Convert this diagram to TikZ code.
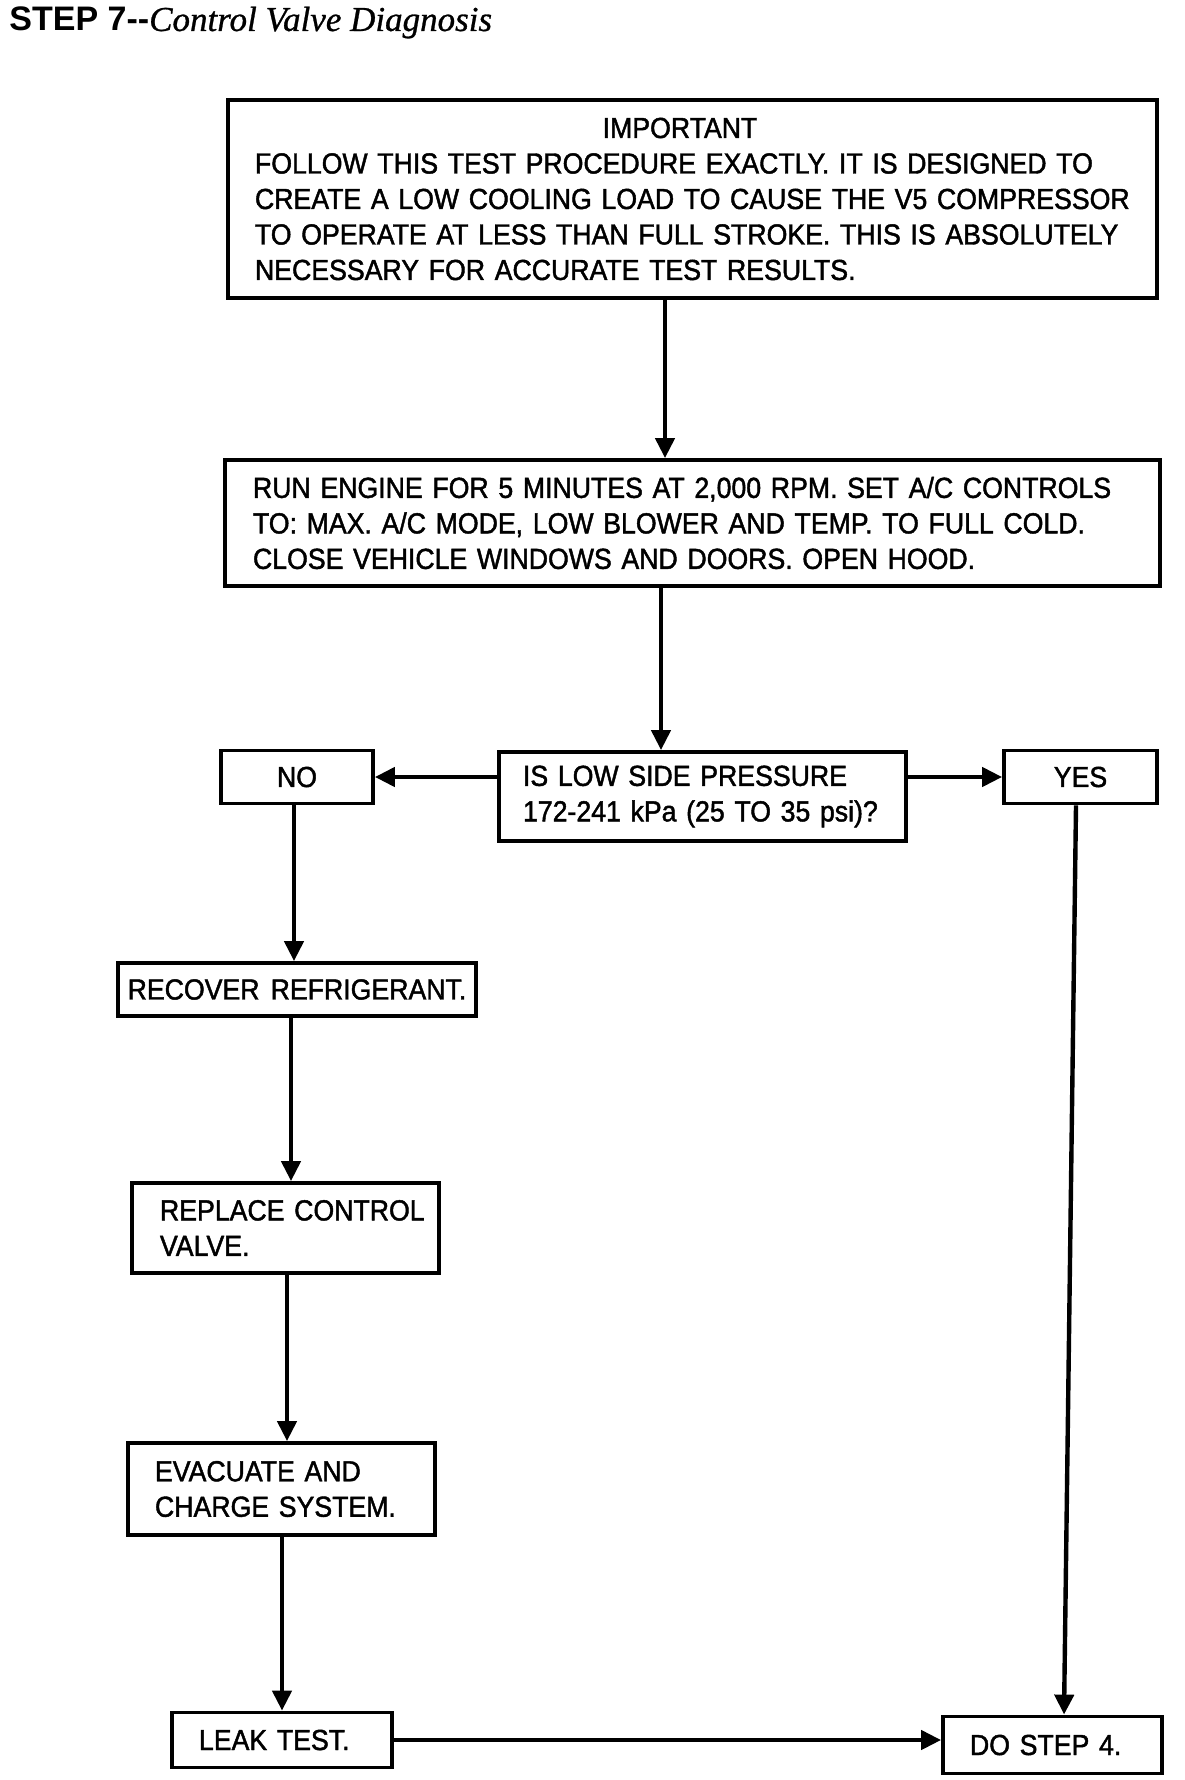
\documentclass[tikz,border=0pt]{standalone}
\usepackage{fontspec}
\usetikzlibrary{arrows.meta}
\newfontfamily\boxfont[FakeStretch=0.92, WordSpace=1.5, FakeBold=1.5]{Liberation Sans}
\newfontfamily\titlesans{Liberation Sans}
\newfontfamily\titleserif[FakeBold=0.8]{Liberation Serif}
\newcommand\boxtxt{\boxfont\fontsize{14.5pt}{17.75pt}\selectfont}
\tikzset{
  bx/.style 2 args={draw, line width=1.9pt, inner sep=0pt,
    minimum width=#1*0.5pt, minimum height=#2*0.5pt, align=left, font=\boxtxt},
  arr/.style={line width=2.2pt, -{Triangle[length=10pt,width=9.5pt]}}}
\begin{document}
\begin{tikzpicture}[x=0.5pt,y=-0.5pt]
\fill[white] (0,0) rectangle (1184,1780);
\useasboundingbox (0,0) rectangle (1184,1780);

\node[anchor=base west, inner sep=0pt] (title) at (9,31)
  {{\titlesans\bfseries\fontsize{17pt}{20pt}\selectfont STEP 7\mbox{-}\mbox{-}}{\titleserif\itshape\fontsize{17.5pt}{20pt}\selectfont Control Valve Diagnosis}};

\node[bx={929}{198}, text width=437.5pt] (imp) at (692.5,199)
  {\makebox[425pt][c]{IMPORTANT}\\
   \mbox{FOLLOW THIS TEST PROCEDURE EXACTLY. IT IS DESIGNED TO}\\
   \mbox{CREATE A LOW COOLING LOAD TO CAUSE THE V5 COMPRESSOR}\\
   \mbox{TO OPERATE AT LESS THAN FULL STROKE. THIS IS ABSOLUTELY}\\
   \mbox{NECESSARY FOR ACCURATE TEST RESULTS.}};

\node[bx={935}{126}, text width=439.5pt] (run) at (692.5,523)
  {\mbox{RUN ENGINE FOR 5 MINUTES AT 2,000 RPM. SET A/C CONTROLS}\\
   \mbox{TO: MAX. A/C MODE, LOW BLOWER AND TEMP. TO FULL COLD.}\\
   \mbox{CLOSE VEHICLE WINDOWS AND DOORS. OPEN HOOD.}};

\node[bx={152}{53}] (no) at (297,777) {NO};
\node[bx={407}{89}, text width=179.5pt] (q) at (702.5,796.5)
  {\mbox{IS LOW SIDE PRESSURE}\\\mbox{172-241 kPa (25 TO 35 psi)?}};
\node[bx={153}{53}] (yes) at (1080.5,777) {YES};

\node[bx={358}{53}] (rec) at (297,989.5) {RECOVER REFRIGERANT.};
\node[bx={307}{90}, text width=125.5pt] (rep) at (285.5,1228) {\mbox{REPLACE CONTROL}\\VALVE.};
\node[bx={307}{92}, text width=126.5pt] (eva) at (281.5,1489) {\mbox{EVACUATE AND}\\\mbox{CHARGE SYSTEM.}};
\node[bx={220}{55}, text width=83pt] (leak) at (282,1740) {\mbox{LEAK TEST.}};
\node[bx={219}{57}, text width=82.5pt] (do) at (1052.5,1745) {\mbox{DO STEP 4.}};

\coordinate (x1) at (665,0);
\coordinate (x2) at (661,0);
\coordinate (x3) at (294,0);
\coordinate (x4) at (291,0);
\coordinate (x5) at (287,0);
\coordinate (x6) at (282,0);
\coordinate (x7) at (1076,0);
\coordinate (x8) at (1064,0);

\draw[arr] (imp.south -| x1) -- (run.north -| x1);
\draw[arr] (run.south -| x2) -- (q.north -| x2);
\draw[arr] (q.west |- no.center) -- (no.east);
\draw[arr] (q.east |- yes.center) -- (yes.west);
\draw[arr] (no.south -| x3) -- (rec.north -| x3);
\draw[arr] (rec.south -| x4) -- (rep.north -| x4);
\draw[arr] (rep.south -| x5) -- (eva.north -| x5);
\draw[arr] (eva.south -| x6) -- (leak.north -| x6);
\draw[arr] (yes.south -| x7) -- (do.north -| x8);
\draw[arr] (leak.east) -- (do.west |- leak.east);
\end{tikzpicture}
\end{document}
